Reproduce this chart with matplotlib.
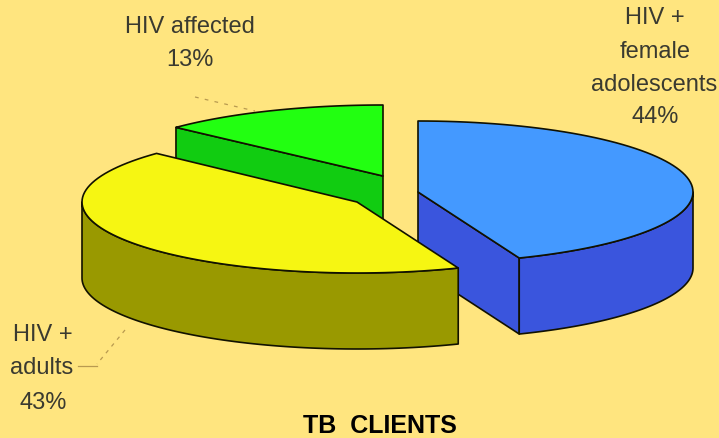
import numpy as np
import matplotlib
matplotlib.use("Agg")
import matplotlib.pyplot as plt
from matplotlib.patches import Polygon

plt.rcParams['font.family'] = ['Liberation Sans', 'DejaVu Sans']

# data
categories = ["HIV +\nfemale\nadolescents", "HIV +\nadults", "HIV affected"]
shares = [44, 43, 13]
title = "TB  CLIENTS"

# style / layout (pixel space of the figure)
W, H = 719, 439
BG = "#FFE57F"
APEX = {0: (418, 193), 1: (357, 203), 2: (383, 177)}
TOP = ["#4499FF", "#F6F612", "#22FF11"]
SIDE = ["#3A55DD", "#999900", "#11CC11"]
RXS = [275, 275, 284]
RY, DEPTH = 71, 76
ORDER = [2, 0, 1]
START = 90.0

fig = plt.figure(figsize=(W / 100, H / 100), dpi=100, facecolor=BG)
ax = fig.add_axes([0, 0, 1, 1])
ax.set_xlim(0, W)
ax.set_ylim(H, 0)
ax.axis("off")


def arc(i, a0, a1, dy=0.0):
    c = APEX[i]
    t = np.radians(np.linspace(a0, a1, 80))
    return np.column_stack([c[0] + RXS[i] * np.cos(t), c[1] + dy - RY * np.sin(t)])


def poly(pts, color, z):
    ax.add_patch(Polygon(pts, closed=True, facecolor=color, edgecolor="#111100",
                         linewidth=1.2, joinstyle="round", zorder=z))


# angular extents, clockwise from the top
edges = START - 3.6 * np.cumsum([0] + shares)
spans = [(edges[i], edges[i + 1]) for i in range(len(shares))]

for z, i in enumerate(ORDER):
    c = APEX[i]
    a0, a1 = spans[i]
    base = 10 * (z + 1)
    # visible cut faces
    for a in (a0, a1):
        p = arc(i, a, a, 0)[0]
        if (i == 0 and a == a1) or (i == 2 and a == a0):
            poly([c, p, (p[0], p[1] + DEPTH), (c[0], c[1] + DEPTH)], SIDE[i], base)
    # outer wall: the part of the arc that faces the viewer
    lo, hi = a1, a0
    wall_hi = min(hi, 0.0) if lo < 0 else hi
    lo_w = max(lo, -180.0)
    if wall_hi > lo_w:
        top_edge = arc(i, lo_w, wall_hi)
        poly(np.vstack([top_edge, arc(i, wall_hi, lo_w, DEPTH)]), SIDE[i], base + 1)
    # top surface
    poly(np.vstack([[c], arc(i, a0, a1)]), TOP[i], base + 2)

# leader lines
lead = dict(color="#B89A50", lw=0.9, zorder=1)
ax.plot([195, 255], [98, 112], ls=(0, (3, 5)), **lead)
ax.plot([125, 97], [331, 365], ls=(0, (3, 4)), **lead)
ax.plot([97, 78], [367, 367], ls="-", **lead)

# labels
txt = dict(ha="center", va="center", color="#3A3A30", fontsize=17, linespacing=1.0)
pct = [f"{v}%" for v in shares]
label_pos = [
    [(655, 18), (655, 52), (654, 85), (655, 117)],
    [(43, 335), (42, 368), (43, 403)],
    [(190, 27), (190, 60)],
]
for i, cat in enumerate(categories):
    rows = cat.split("\n") + [pct[i]]
    for row, (x, y) in zip(rows, label_pos[i]):
        ax.text(x, y, row, **txt)

ax.text(379.5, 433, title, ha="center", va="baseline", fontsize=18, fontweight="bold", color="black")

fig.savefig("out.png", dpi=100, facecolor=BG)
